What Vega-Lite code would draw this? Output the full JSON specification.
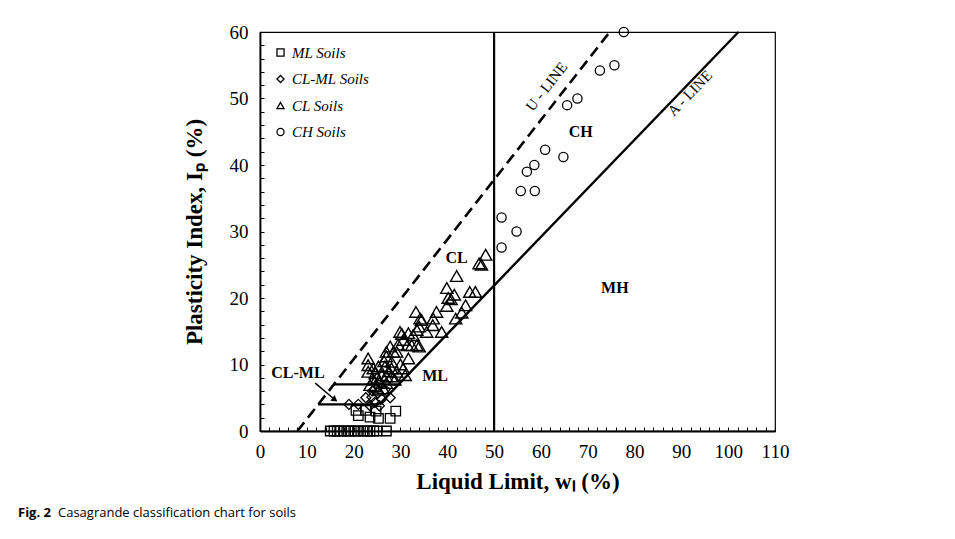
{
  "$schema": "https://vega.github.io/schema/vega-lite/v6.json",
  "padding": {"left": 18, "top": 22, "right": 5, "bottom": 5},
  "bounds": "flush",
  "background": "white",
  "config": {
    "view": {"stroke": "#000", "strokeWidth": 1.2},
    "font": "Liberation Serif",
    "axis": {
      "grid": false,
      "labelFont": "Liberation Serif",
      "labelFontSize": 19,
      "labelColor": "#000",
      "labelOverlap": false,
      "labelFlush": false,
      "titleFont": "Liberation Serif",
      "titleFontSize": 23,
      "titleFontWeight": "bold",
      "titleColor": "#000",
      "domainColor": "#000",
      "domainWidth": 1.8,
      "tickColor": "#000",
      "tickWidth": 1,
      "tickSize": -4
    },
    "legend": {
      "orient": "top-left",
      "offset": 13,
      "labelFont": "Liberation Serif",
      "labelFontStyle": "italic",
      "labelFontSize": 15,
      "labelColor": "#000",
      "rowPadding": 10.5,
      "symbolSize": 50,
      "symbolStrokeWidth": 1.3,
      "symbolStrokeColor": "#000",
      "symbolFillColor": "transparent"
    }
  },
  "title": {
    "text": "Fig. 2",
    "orient": "bottom",
    "anchor": "start",
    "frame": "group",
    "dx": -242,
    "dy": -14,
    "offset": 0,
    "font": "Open Sans",
    "fontSize": 13,
    "fontWeight": "bold",
    "color": "#000"
  },
  "datasets": {
    "soils": [
      {"soil": "ML Soils", "LL": 15.0, "PI": 0}, {"soil": "ML Soils", "LL": 15.8, "PI": 0},
      {"soil": "ML Soils", "LL": 16.5, "PI": 0}, {"soil": "ML Soils", "LL": 17.2, "PI": 0},
      {"soil": "ML Soils", "LL": 18.0, "PI": 0}, {"soil": "ML Soils", "LL": 18.8, "PI": 0},
      {"soil": "ML Soils", "LL": 19.5, "PI": 0}, {"soil": "ML Soils", "LL": 20.3, "PI": 0},
      {"soil": "ML Soils", "LL": 21.0, "PI": 0}, {"soil": "ML Soils", "LL": 22.0, "PI": 0},
      {"soil": "ML Soils", "LL": 22.8, "PI": 0}, {"soil": "ML Soils", "LL": 23.5, "PI": 0},
      {"soil": "ML Soils", "LL": 24.3, "PI": 0}, {"soil": "ML Soils", "LL": 25.0, "PI": 0},
      {"soil": "ML Soils", "LL": 27.0, "PI": 0},
      {"soil": "ML Soils", "LL": 20.5, "PI": 3.1}, {"soil": "ML Soils", "LL": 21.0, "PI": 2.3},
      {"soil": "ML Soils", "LL": 22.6, "PI": 3.1}, {"soil": "ML Soils", "LL": 23.5, "PI": 2.1},
      {"soil": "ML Soils", "LL": 24.8, "PI": 3.0}, {"soil": "ML Soils", "LL": 25.3, "PI": 1.9},
      {"soil": "ML Soils", "LL": 27.8, "PI": 1.9}, {"soil": "ML Soils", "LL": 29.0, "PI": 3.0},

      {"soil": "CL-ML Soils", "LL": 19.0, "PI": 4.0}, {"soil": "CL-ML Soils", "LL": 21.0, "PI": 4.0},
      {"soil": "CL-ML Soils", "LL": 22.6, "PI": 5.0}, {"soil": "CL-ML Soils", "LL": 23.9, "PI": 5.1},
      {"soil": "CL-ML Soils", "LL": 25.2, "PI": 5.7}, {"soil": "CL-ML Soils", "LL": 26.7, "PI": 6.2},
      {"soil": "CL-ML Soils", "LL": 27.8, "PI": 5.0}, {"soil": "CL-ML Soils", "LL": 24.5, "PI": 4.3},
      {"soil": "CL-ML Soils", "LL": 25.5, "PI": 3.8}, {"soil": "CL-ML Soils", "LL": 26.0, "PI": 4.8},
      {"soil": "CL-ML Soils", "LL": 24.0, "PI": 6.0}, {"soil": "CL-ML Soils", "LL": 23.5, "PI": 3.8},

      {"soil": "CL Soils", "LL": 48.2, "PI": 26.5}, {"soil": "CL Soils", "LL": 46.8, "PI": 25.2},
      {"soil": "CL Soils", "LL": 47.3, "PI": 25.0}, {"soil": "CL Soils", "LL": 42.0, "PI": 23.3},
      {"soil": "CL Soils", "LL": 44.8, "PI": 20.9}, {"soil": "CL Soils", "LL": 46.0, "PI": 20.9},
      {"soil": "CL Soils", "LL": 39.9, "PI": 21.5}, {"soil": "CL Soils", "LL": 41.5, "PI": 20.5},
      {"soil": "CL Soils", "LL": 40.2, "PI": 20.0}, {"soil": "CL Soils", "LL": 40.8, "PI": 19.8},
      {"soil": "CL Soils", "LL": 39.9, "PI": 18.8}, {"soil": "CL Soils", "LL": 43.9, "PI": 18.9},
      {"soil": "CL Soils", "LL": 43.1, "PI": 17.8}, {"soil": "CL Soils", "LL": 41.8, "PI": 16.9},
      {"soil": "CL Soils", "LL": 33.3, "PI": 17.9}, {"soil": "CL Soils", "LL": 37.7, "PI": 17.9},
      {"soil": "CL Soils", "LL": 34.2, "PI": 16.9}, {"soil": "CL Soils", "LL": 34.5, "PI": 16.7},
      {"soil": "CL Soils", "LL": 37.0, "PI": 16.9}, {"soil": "CL Soils", "LL": 36.9, "PI": 15.9},
      {"soil": "CL Soils", "LL": 34.0, "PI": 15.7}, {"soil": "CL Soils", "LL": 33.5, "PI": 15.2},
      {"soil": "CL Soils", "LL": 35.6, "PI": 14.9}, {"soil": "CL Soils", "LL": 38.8, "PI": 14.9},
      {"soil": "CL Soils", "LL": 29.9, "PI": 14.9}, {"soil": "CL Soils", "LL": 30.3, "PI": 14.6},
      {"soil": "CL Soils", "LL": 31.7, "PI": 14.7}, {"soil": "CL Soils", "LL": 32.7, "PI": 14.4},
      {"soil": "CL Soils", "LL": 30.6, "PI": 13.7}, {"soil": "CL Soils", "LL": 31.5, "PI": 12.9},
      {"soil": "CL Soils", "LL": 32.4, "PI": 12.9}, {"soil": "CL Soils", "LL": 33.5, "PI": 12.9},
      {"soil": "CL Soils", "LL": 34.0, "PI": 12.7}, {"soil": "CL Soils", "LL": 27.8, "PI": 12.7},
      {"soil": "CL Soils", "LL": 28.5, "PI": 11.9}, {"soil": "CL Soils", "LL": 29.2, "PI": 11.9},
      {"soil": "CL Soils", "LL": 27.0, "PI": 11.9}, {"soil": "CL Soils", "LL": 31.7, "PI": 10.9},
      {"soil": "CL Soils", "LL": 23.1, "PI": 10.9}, {"soil": "CL Soils", "LL": 27.0, "PI": 11.2},
      {"soil": "CL Soils", "LL": 28.1, "PI": 10.4}, {"soil": "CL Soils", "LL": 23.1, "PI": 9.9},
      {"soil": "CL Soils", "LL": 24.2, "PI": 9.4}, {"soil": "CL Soils", "LL": 25.3, "PI": 9.7},
      {"soil": "CL Soils", "LL": 26.7, "PI": 9.7}, {"soil": "CL Soils", "LL": 28.1, "PI": 9.4},
      {"soil": "CL Soils", "LL": 29.2, "PI": 8.9}, {"soil": "CL Soils", "LL": 30.6, "PI": 9.4},
      {"soil": "CL Soils", "LL": 31.0, "PI": 8.4}, {"soil": "CL Soils", "LL": 23.1, "PI": 8.9},
      {"soil": "CL Soils", "LL": 24.6, "PI": 8.7}, {"soil": "CL Soils", "LL": 26.0, "PI": 8.4},
      {"soil": "CL Soils", "LL": 27.0, "PI": 8.2}, {"soil": "CL Soils", "LL": 28.1, "PI": 8.2},
      {"soil": "CL Soils", "LL": 28.8, "PI": 7.7}, {"soil": "CL Soils", "LL": 24.2, "PI": 7.7},
      {"soil": "CL Soils", "LL": 25.6, "PI": 7.4}, {"soil": "CL Soils", "LL": 27.0, "PI": 7.2},
      {"soil": "CL Soils", "LL": 23.5, "PI": 6.9}, {"soil": "CL Soils", "LL": 24.6, "PI": 6.7},
      {"soil": "CL Soils", "LL": 25.3, "PI": 6.2}, {"soil": "CL Soils", "LL": 26.3, "PI": 6.4},
      {"soil": "CL Soils", "LL": 26.5, "PI": 10.5}, {"soil": "CL Soils", "LL": 25.0, "PI": 8.0},
      {"soil": "CL Soils", "LL": 29.5, "PI": 13.0}, {"soil": "CL Soils", "LL": 30.0, "PI": 10.0},
      {"soil": "CL Soils", "LL": 27.5, "PI": 9.0},

      {"soil": "CH Soils", "LL": 51.6, "PI": 32.1}, {"soil": "CH Soils", "LL": 51.6, "PI": 27.6},
      {"soil": "CH Soils", "LL": 54.8, "PI": 30.0}, {"soil": "CH Soils", "LL": 55.7, "PI": 36.1},
      {"soil": "CH Soils", "LL": 58.7, "PI": 36.1}, {"soil": "CH Soils", "LL": 57.0, "PI": 39.0},
      {"soil": "CH Soils", "LL": 58.6, "PI": 40.0}, {"soil": "CH Soils", "LL": 60.9, "PI": 42.3},
      {"soil": "CH Soils", "LL": 64.8, "PI": 41.2}, {"soil": "CH Soils", "LL": 65.6, "PI": 49.0},
      {"soil": "CH Soils", "LL": 67.8, "PI": 50.0}, {"soil": "CH Soils", "LL": 72.6, "PI": 54.2},
      {"soil": "CH Soils", "LL": 75.7, "PI": 55.0}, {"soil": "CH Soils", "LL": 77.7, "PI": 60.0}
    ],
    "lines": [
      {"line": "A-line", "LL": 25.5, "PI": 4, "LL2": 102.2, "PI2": 60},
      {"line": "U-line", "LL": 8, "PI": 0, "LL2": 74.7, "PI2": 60},
      {"line": "LL50", "LL": 50, "PI": 0, "LL2": 50, "PI2": 60},
      {"line": "CL-ML upper", "LL": 15.8, "PI": 7, "LL2": 29.6, "PI2": 7},
      {"line": "CL-ML lower", "LL": 12.4, "PI": 4, "LL2": 25.5, "PI2": 4},
      {"line": "arrow", "LL": 11.8, "PI": 7.2, "LL2": 16.0, "PI2": 4.7}
    ],
    "arrowhead": [{"LL": 16.0, "PI": 4.7}],
    "zones": [
      {"text": "CL-ML", "LL": 8.1, "PI": 8.7},
      {"text": "ML", "LL": 37.4, "PI": 8.2},
      {"text": "CL", "LL": 42.0, "PI": 26.0},
      {"text": "CH", "LL": 68.5, "PI": 44.9},
      {"text": "MH", "LL": 75.8, "PI": 21.5}
    ],
    "lineLabels": [
      {"text": "U - LINE", "line": "U-line", "LL": 61.2, "PI": 51.8},
      {"text": "A - LINE", "line": "A-line", "LL": 91.8, "PI": 50.8}
    ]
  },
  "vconcat": [
    {
      "width": 515,
      "height": 399,
      "title": {
        "text": "Casagrande classification chart for soils",
        "orient": "bottom",
        "anchor": "start",
        "frame": "group",
        "dx": -202,
        "offset": 14,
        "font": "Open Sans",
        "fontSize": 13,
        "fontWeight": "normal",
        "color": "#000"
      },
      "encoding": {
        "x": {
          "field": "LL",
          "type": "quantitative",
          "scale": {"domain": [0, 110], "nice": false, "zero": false},
          "axis": {
            "title": "Liquid Limit, wₗ (%)",
            "values": [0, 2, 4, 6, 8, 10, 12, 14, 16, 18, 20, 22, 24, 26, 28, 30, 32, 34, 36, 38, 40, 42, 44, 46, 48, 50, 52, 54, 56, 58, 60, 62, 64, 66, 68, 70, 72, 74, 76, 78, 80, 82, 84, 86, 88, 90, 92, 94, 96, 98, 100, 102, 104, 106, 108, 110],
            "labelExpr": "datum.value % 10 === 0 ? datum.label : ''",
            "labelPadding": 15,
            "titlePadding": 9
          }
        },
        "y": {
          "field": "PI",
          "type": "quantitative",
          "scale": {"domain": [0, 60], "nice": false, "zero": false},
          "axis": {
            "title": "Plasticity Index, Iₚ (%)",
            "values": [0, 2, 4, 6, 8, 10, 12, 14, 16, 18, 20, 22, 24, 26, 28, 30, 32, 34, 36, 38, 40, 42, 44, 46, 48, 50, 52, 54, 56, 58, 60],
            "labelExpr": "datum.value % 10 === 0 ? datum.label : ''",
            "labelPadding": 16,
            "titlePadding": 23
          }
        }
      },
      "layer": [
        {
          "data": {"name": "lines"},
          "transform": [{"filter": "datum.line === 'U-line'"}],
          "mark": {"type": "rule", "color": "#000", "strokeWidth": 2.6, "strokeDash": [11, 6]},
          "encoding": {"x2": {"field": "LL2"}, "y2": {"field": "PI2"}}
        },
        {
          "data": {"name": "lines"},
          "transform": [{"filter": "datum.line === 'A-line'"}],
          "mark": {"type": "rule", "color": "#000", "strokeWidth": 2.4},
          "encoding": {"x2": {"field": "LL2"}, "y2": {"field": "PI2"}}
        },
        {
          "data": {"name": "lines"},
          "transform": [{"filter": "datum.line === 'LL50' || datum.line === 'CL-ML upper' || datum.line === 'CL-ML lower'"}],
          "mark": {"type": "rule", "color": "#000", "strokeWidth": 2.2},
          "encoding": {"x2": {"field": "LL2"}, "y2": {"field": "PI2"}}
        },
        {
          "data": {"name": "lines"},
          "transform": [{"filter": "datum.line === 'arrow'"}],
          "mark": {"type": "rule", "color": "#000", "strokeWidth": 1.4},
          "encoding": {"x2": {"field": "LL2"}, "y2": {"field": "PI2"}}
        },
        {
          "data": {"name": "arrowhead"},
          "mark": {"type": "point", "shape": "triangle-right", "filled": true, "color": "#000", "size": 50, "angle": 37, "opacity": 1}
        },
        {
          "data": {"name": "soils"},
          "transform": [{"filter": "datum.soil === 'ML Soils'"}],
          "mark": {"type": "point", "filled": false, "color": "#000", "strokeWidth": 1.3, "size": 90, "opacity": 1},
          "encoding": {
            "shape": {
              "field": "soil",
              "type": "nominal",
              "scale": {"domain": ["ML Soils", "CL-ML Soils", "CL Soils", "CH Soils"], "range": ["square", "diamond", "triangle-up", "circle"]},
              "legend": {"title": null, "symbolSize": 50}
            }
          }
        },
        {
          "data": {"name": "soils"},
          "transform": [{"filter": "datum.soil === 'CL-ML Soils'"}],
          "mark": {"type": "point", "filled": false, "color": "#000", "strokeWidth": 1.3, "size": 100, "opacity": 1},
          "encoding": {"shape": {"field": "soil", "type": "nominal"}}
        },
        {
          "data": {"name": "soils"},
          "transform": [{"filter": "datum.soil === 'CL Soils'"}],
          "mark": {"type": "point", "filled": false, "color": "#000", "strokeWidth": 1.4, "size": 150, "opacity": 1},
          "encoding": {"shape": {"field": "soil", "type": "nominal"}}
        },
        {
          "data": {"name": "soils"},
          "transform": [{"filter": "datum.soil === 'CH Soils'"}],
          "mark": {"type": "point", "filled": false, "color": "#000", "strokeWidth": 1.3, "size": 85, "opacity": 1},
          "encoding": {"shape": {"field": "soil", "type": "nominal"}}
        },
        {
          "data": {"name": "zones"},
          "mark": {"type": "text", "font": "Liberation Serif", "fontSize": 16, "fontWeight": "bold", "color": "#000"},
          "encoding": {"text": {"field": "text"}}
        },
        {
          "data": {"name": "lineLabels"},
          "transform": [{"filter": "datum.line === 'U-line'"}],
          "mark": {"type": "text", "font": "Liberation Serif", "fontSize": 15, "color": "#000", "angle": 308},
          "encoding": {"text": {"field": "text"}}
        },
        {
          "data": {"name": "lineLabels"},
          "transform": [{"filter": "datum.line === 'A-line'"}],
          "mark": {"type": "text", "font": "Liberation Serif", "fontSize": 15, "color": "#000", "angle": 314},
          "encoding": {"text": {"field": "text"}}
        }
      ]
    }
  ]
}
